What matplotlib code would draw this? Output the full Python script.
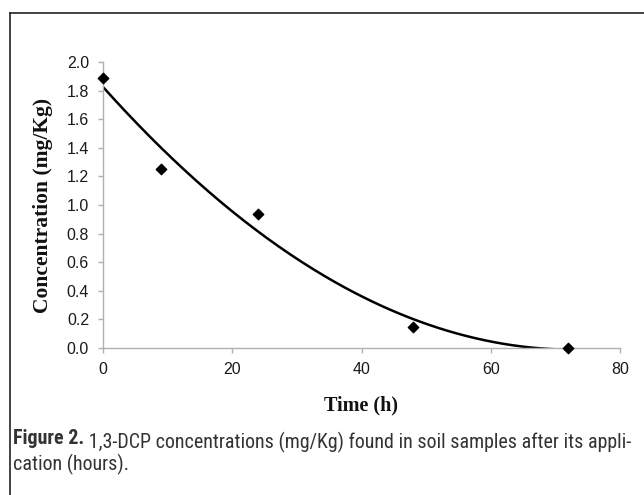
import numpy as np
import matplotlib
matplotlib.use("Agg")
import matplotlib.pyplot as plt
from matplotlib.lines import Line2D
from matplotlib import font_manager as fm

# Data
time_h = [0, 9, 24, 48, 72]
conc = [1.89, 1.25, 0.94, 0.15, 0.0]
x_ticks = [0, 20, 40, 60, 80]
y_ticks = [0.0, 0.2, 0.4, 0.6, 0.8, 1.0, 1.2, 1.4, 1.6, 1.8, 2.0]

# pick a condensed sans for the caption if one is installed
names = {f.name for f in fm.fontManager.ttflist}
cap_family = ['DejaVu Sans']
cap_stretch = 'normal'
for cand in ['Liberation Sans Narrow', 'Roboto Condensed', 'Open Sans Condensed',
             'Noto Sans Condensed']:
    if cand in names:
        cap_family = [cand, 'DejaVu Sans']
        break
else:
    if any(f.name == 'DejaVu Sans' and str(f.stretch) in ('condensed', '300')
           for f in fm.fontManager.ttflist):
        cap_stretch = 'condensed'
cap_size = 11 if cap_family[0] == 'DejaVu Sans' and cap_stretch == 'normal' else 14.4

fig = plt.figure(figsize=(6.44, 4.95), dpi=100)
ax = fig.add_axes([103/644, 1-348/495, (620-103)/644, (348-62)/495])

# polynomial (order 2) trendline fitted to the data
coef = np.polyfit(time_h, conc, 2)
xs = np.linspace(min(time_h), max(time_h), 200)
ax.plot(xs, np.polyval(coef, xs), color='black', lw=1.8, zorder=2)
ax.scatter(time_h, conc, marker='D', s=28, color='black', zorder=3, clip_on=False)

ax.set_xlim(0, 80)
ax.set_ylim(0, 2.0)
ax.set_xticks(x_ticks)
ax.set_yticks(y_ticks)
ax.set_xticklabels([str(v) for v in x_ticks])
ax.set_yticklabels([f"{v:.1f}" for v in y_ticks])
for s in ['top', 'right']:
    ax.spines[s].set_visible(False)
for s in ['left', 'bottom']:
    ax.spines[s].set_color('#b0b0b0')
    ax.spines[s].set_linewidth(1.0)
ax.tick_params(axis='both', direction='out', length=3.5, width=1.0, color='#b0b0b0',
               labelsize=11.5, labelcolor='#1a1a1a')
ax.tick_params(axis='x', pad=6.5)
ax.tick_params(axis='y', pad=6.5)
for lab in ax.get_xticklabels() + ax.get_yticklabels():
    lab.set_fontfamily('Liberation Sans')

ax.set_xlabel('Time (h)', fontfamily='Liberation Serif', fontweight='bold', fontsize=14.5,
              color='#111111')
ax.xaxis.set_label_coords(0.5, -62/286, transform=ax.transAxes)
ax.set_ylabel('Concentration (mg/Kg)', fontfamily='Liberation Serif', fontweight='bold',
              fontsize=15.5, color='#111111')
ax.yaxis.set_label_coords(-(103-43)/517, 0.5, transform=ax.transAxes)
ax.yaxis.label.set_va('center')
ax.xaxis.label.set_va('baseline')

# frame
fig.add_artist(Line2D([10/644, 10/644], [0, 1-12.5/495], transform=fig.transFigure,
                      color='#222222', lw=1.2))
fig.add_artist(Line2D([10/644, 1], [1-12.5/495, 1-12.5/495], transform=fig.transFigure,
                      color='#222222', lw=1.2))

# caption
t1 = fig.text(13/644, 1-444/495, 'Figure 2.', fontfamily=cap_family, fontweight='bold',
              fontstretch=cap_stretch, fontsize=cap_size, color='#333333', va='baseline')
ax.annotate(' 1,3-DCP concentrations (mg/Kg) found in soil samples after its appli-',
            xy=(1, 0), xycoords=t1, va='baseline', ha='left',
            fontfamily=cap_family, fontstretch=cap_stretch, fontsize=cap_size,
            color='#333333', annotation_clip=False)
fig.text(13/644, 1-470/495, 'cation (hours).', fontfamily=cap_family,
         fontstretch=cap_stretch, fontsize=cap_size, color='#333333', va='baseline')

fig.savefig('out.png', dpi=100)
